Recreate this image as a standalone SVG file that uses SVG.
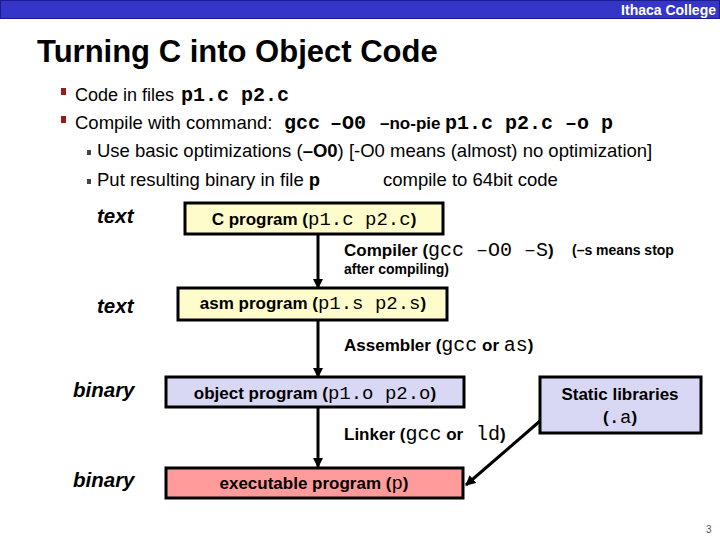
<svg xmlns="http://www.w3.org/2000/svg" width="720" height="540" viewBox="0 0 720 540">
<style>
.s{font-family:"Liberation Sans",Arial,sans-serif;fill:#000}
.b{font-weight:bold}
.m{font-family:"Liberation Mono","Courier New",monospace}
.lbl{font-family:"Liberation Sans",Arial,sans-serif;font-weight:bold;font-style:italic;font-size:20.5px}
.box{stroke:#000;stroke-width:3}
.yel{fill:#FFFCCB}
.lav{fill:#D8D8F4}
.red{fill:#FF9B9B}
.conn{stroke:#000;stroke-width:3;fill:none}
</style>
<defs>
<marker id="ah" viewBox="0 0 10 10" refX="9" refY="5" markerWidth="3.4" markerHeight="3.4" orient="auto" markerUnits="strokeWidth">
<path d="M0,0 L10,5 L0,10 z" fill="#000"/>
</marker>
</defs>
<rect width="720" height="540" fill="#fff"/>
<g id="header">
<rect x="0.5" y="0.5" width="719" height="18" fill="#3535C8" stroke="#1C1C90" stroke-width="1"/>
<text x="716" y="15" text-anchor="end" class="s b" font-size="14" style="fill:#fff">Ithaca College</text>
</g>
<text x="37" y="62" class="s b" font-size="31">Turning C into Object Code</text>
<g id="bullets">
<rect x="61" y="88" width="5" height="7" fill="#9B1B1B"/>
<text y="101" class="s" font-size="18"><tspan x="75">Code in files </tspan><tspan x="181" class="m b" font-size="20">p1.c p2.c</tspan></text>
<rect x="61" y="116" width="5" height="7" fill="#9B1B1B"/>
<text y="129" class="s" font-size="18.5"><tspan x="75">Compile with command:</tspan><tspan x="284" class="m b" font-size="20">gcc</tspan><tspan x="330" class="m b" font-size="20">–O0</tspan><tspan x="380" class="b" font-size="17">–no-pie</tspan><tspan x="445" class="m b" font-size="20">p1.c p2.c –o p</tspan></text>
<rect x="87" y="150" width="4" height="5" fill="#444"/>
<text y="157" class="s" font-size="18.5"><tspan x="97">Use basic optimizations (</tspan><tspan class="b">–O0</tspan><tspan>)  [-O0 means (almost) no optimization]</tspan></text>
<rect x="87" y="179" width="4" height="5" fill="#444"/>
<text y="186" class="s" font-size="18.5"><tspan x="97">Put resulting binary in file </tspan><tspan class="m b" font-size="19">p</tspan><tspan x="383">compile to 64bit code</tspan></text>
</g>
<g id="side-labels">
<text x="97" y="223" class="lbl">text</text>
<text x="97" y="313" class="lbl">text</text>
<text x="73" y="397" class="lbl">binary</text>
<text x="73" y="487" class="lbl">binary</text>
</g>
<g id="connectors">
<line x1="318" y1="234" x2="318" y2="288" class="conn" marker-end="url(#ah)"/>
<line x1="318" y1="320" x2="318" y2="377" class="conn" marker-end="url(#ah)"/>
<line x1="318" y1="407" x2="318" y2="467" class="conn" marker-end="url(#ah)"/>
<line x1="540" y1="421" x2="466" y2="485" class="conn" marker-end="url(#ah)"/>
<text y="256" class="s b" font-size="17"><tspan x="344">Compiler (</tspan><tspan class="m" font-weight="normal" font-size="20">gcc  –O0  –S</tspan><tspan>)</tspan></text>
<text x="572" y="255" class="s b" font-size="14">(–s means stop</text>
<text x="344" y="274" class="s b" font-size="14">after compiling)</text>
<text y="351" class="s b" font-size="17"><tspan x="344">Assembler (</tspan><tspan class="m" font-weight="normal" font-size="20">gcc</tspan><tspan> or </tspan><tspan class="m" font-weight="normal" font-size="20">as</tspan><tspan>)</tspan></text>
<text y="440" class="s b" font-size="17"><tspan x="344">Linker (</tspan><tspan class="m" font-weight="normal" font-size="20">gcc</tspan><tspan> or</tspan><tspan x="476" class="m" font-weight="normal" font-size="20">ld</tspan><tspan>)</tspan></text>
</g>
<g id="n-c">
<rect x="185" y="203" width="258" height="31" class="box yel"/>
<text x="314" y="225" text-anchor="middle" class="s b" font-size="17">C program (<tspan class="m" font-weight="normal" font-size="19">p1.c p2.c</tspan>)</text>
</g>
<g id="n-asm">
<rect x="178" y="288" width="269" height="32" class="box yel"/>
<text x="313" y="309" text-anchor="middle" class="s b" font-size="17">asm program (<tspan class="m" font-weight="normal" font-size="19">p1.s p2.s</tspan>)</text>
</g>
<g id="n-obj">
<rect x="166" y="377" width="298" height="30" class="box lav"/>
<text x="315" y="399" text-anchor="middle" class="s b" font-size="17">object program (<tspan class="m" font-weight="normal" font-size="19">p1.o p2.o</tspan>)</text>
</g>
<g id="n-exe">
<rect x="166" y="468" width="297" height="30" class="box red"/>
<text x="314" y="489" text-anchor="middle" class="s b" font-size="17">executable program (<tspan class="m" font-weight="normal" font-size="19">p</tspan>)</text>
</g>
<g id="n-lib">
<rect x="540" y="377" width="161" height="56" class="box lav"/>
<text x="620" y="400" text-anchor="middle" class="s b" font-size="17">Static libraries</text>
<text x="620" y="423" text-anchor="middle" class="s b" font-size="17">(<tspan class="m" font-weight="normal" font-size="19">.a</tspan>)</text>
</g>
<text x="706" y="533" class="s" font-size="10" style="fill:#555">3</text>
</svg>
